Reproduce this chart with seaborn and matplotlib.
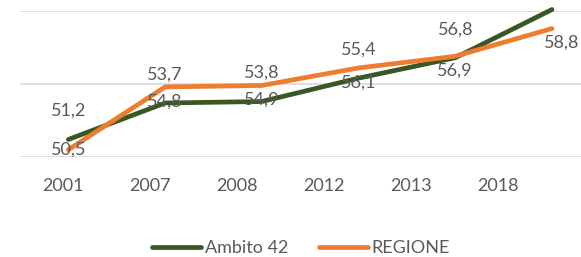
import pandas as pd
import matplotlib
matplotlib.use("Agg")
import matplotlib.pyplot as plt
import seaborn as sns

# data
years = ["2001", "2007", "2008", "2012", "2013", "2018"]
ambito = [51.2, 53.7, 53.8, 55.4, 56.8, 60.1]
regione = [50.5, 54.8, 54.9, 56.1, 56.9, 58.8]
series_names = ["Ambito 42", "REGIONE"]
colors = ["#385723", "#ED7D31"]

sns.set_theme(style="white")
plt.rcParams["font.family"] = ["Lato", "DejaVu Sans"]
txt_color = "#595959"
fs = 13

# long format table for seaborn
df = pd.DataFrame({
    "pos": list(range(len(years))) * 2,
    "value": ambito + regione,
    "serie": [series_names[0]] * len(years) + [series_names[1]] * len(years),
})

fig = plt.figure(figsize=(5.81, 2.57), dpi=100)
ax = fig.add_axes([20 / 581, 100 / 257, 561 / 581, 146 / 257])

sns.lineplot(data=df, x="pos", y="value", hue="serie", palette=colors,
             linewidth=3.4, solid_capstyle="round", clip_on=False,
             legend=False, ax=ax, sort=False)

ax.set_xlim(-0.5, 5.3)
ax.set_ylim(50, 60)
ax.set_yticks([50, 55, 60])
ax.yaxis.grid(True, color="#D9D9D9", linewidth=1.2)
ax.set_yticklabels([])
ax.set_xticks([])
ax.set(xlabel="", ylabel="")
ax.tick_params(length=0)
for s in ax.spines.values():
    s.set_visible(False)

# data labels: Ambito above, REGIONE below
for i, v in enumerate(ambito):
    if v + 1.95 < 60:
        ax.text(i, v + 1.95, f"{v:.1f}".replace(".", ","), ha="center",
                va="center", fontsize=fs, color=txt_color)
for i, v in enumerate(regione):
    dx = 0.1 if i == len(regione) - 1 else 0
    ax.text(i + dx, max(v - 1.0, 50.5), f"{v:.1f}".replace(".", ","),
            ha="center", va="center", fontsize=fs, color=txt_color)

# category labels
ax2 = ax.twiny()
ax2.set_xlim(-0.5, 5.96)
ax2.xaxis.set_ticks_position("bottom")
ax2.set_xticks(range(len(years)))
ax2.set_xticklabels(years, fontsize=fs, color=txt_color)
ax2.tick_params(length=0, pad=15)
for s in ax2.spines.values():
    s.set_visible(False)

handles = [plt.Line2D([], [], color=c, linewidth=3.4, solid_capstyle="round")
           for c in colors]
fig.legend(handles, series_names, loc="center", bbox_to_anchor=(301 / 581, 9 / 257),
           ncol=2, frameon=False, fontsize=fs, handlelength=2.7,
           handletextpad=0.2, columnspacing=1.7, labelcolor=txt_color)

fig.savefig("out.png", dpi=100)
